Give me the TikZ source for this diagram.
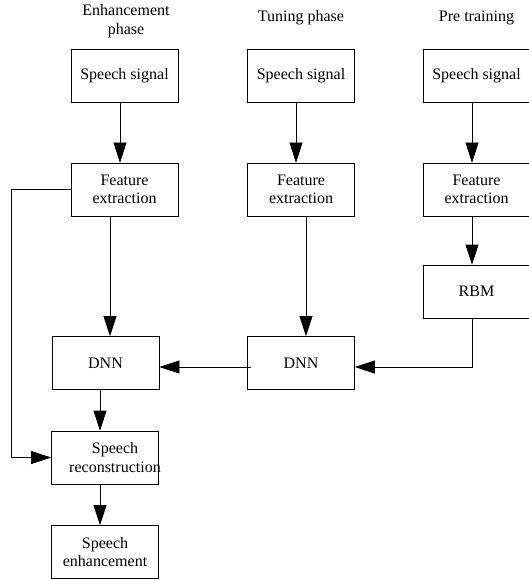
\documentclass[tikz,border=0pt]{standalone}
\usepackage{fontspec}
\setmainfont{Liberation Serif}
\usetikzlibrary{arrows.meta,positioning,calc}

\begin{document}
\begin{tikzpicture}[
  x=1pt, y=-1pt,
  font=\fontsize{16}{18.5}\selectfont,
  bx/.style={draw, line width=0.8pt, minimum width=107pt, minimum height=53pt,
    inner sep=0pt, align=center},
  ttl/.style={align=center, inner sep=0pt},
  ar/.style={line width=0.8pt, -{Triangle[length=20pt,width=13pt]}},
  ln/.style={line width=0.8pt},
]
\useasboundingbox (0,0) rectangle (528,580);
\node[ttl] (t1) at (126,21) {Enhancement\\phase};
\node[ttl] (t2) at (301,18) {Tuning phase};
\node[ttl] (t3) at (476.5,18) {Pre training};
\node[bx] (es) at (124.5,76) {Speech signal};
\node[bx] (ef) at (124.5,189.5) {Feature\\extraction};
\node[bx] (ed) at (105.5,363) {DNN};
\node[bx, label={[xshift=10pt, align=center]center:{Speech\\reconstruction}}] (er) at (105,457.5) {};
\node[bx] (ee) at (105,552) {Speech\\enhancement};
\node[bx] (ts) at (301,76) {Speech signal};
\node[bx] (tf) at (301,189.5) {Feature\\extraction};
\node[bx] (td) at (301,363) {DNN};
\node[bx] (ps) at (476.5,76) {Speech signal};
\node[bx] (pf) at (476.5,189.5) {Feature\\extraction};
\node[bx] (pr) at (476.5,291.5) {RBM};
\draw[ar] ([xshift=-4.5pt]es.south) -- ([xshift=-4.5pt]ef.north);
\draw[ar] ([xshift=-14.5pt]ef.south) -- ([xshift=-14.5pt]ef.south |- ed.north);
\draw[ar] ([xshift=-5pt]ts.south) -- ([xshift=-5pt]tf.north);
\draw[ar] ([xshift=5pt]tf.south) -- ([xshift=5pt]tf.south |- td.north);
\draw[ar] ([xshift=-4.5pt]ps.south) -- ([xshift=-4.5pt]pf.north);
\draw[ar] ([xshift=-4.5pt]pf.south) -- ([xshift=-4.5pt]pr.north);
\draw[ar] ([xshift=-4.5pt]pr.south) |- ([yshift=-4pt]td.east);
\draw[ar] ([xshift=4pt,yshift=-4pt]td.west) -- ([yshift=-4pt]ed.east);
\draw[ar] ([xshift=-5.5pt]ed.south) -- ([xshift=-5.5pt]ed.south |- er.north);
\draw[ar] ([xshift=-5pt]er.south) -- ([xshift=-5pt]ee.north);
\draw[ar] (ef.west) -- ++(-59,0) |- (er.west);
\end{tikzpicture}
\end{document}
